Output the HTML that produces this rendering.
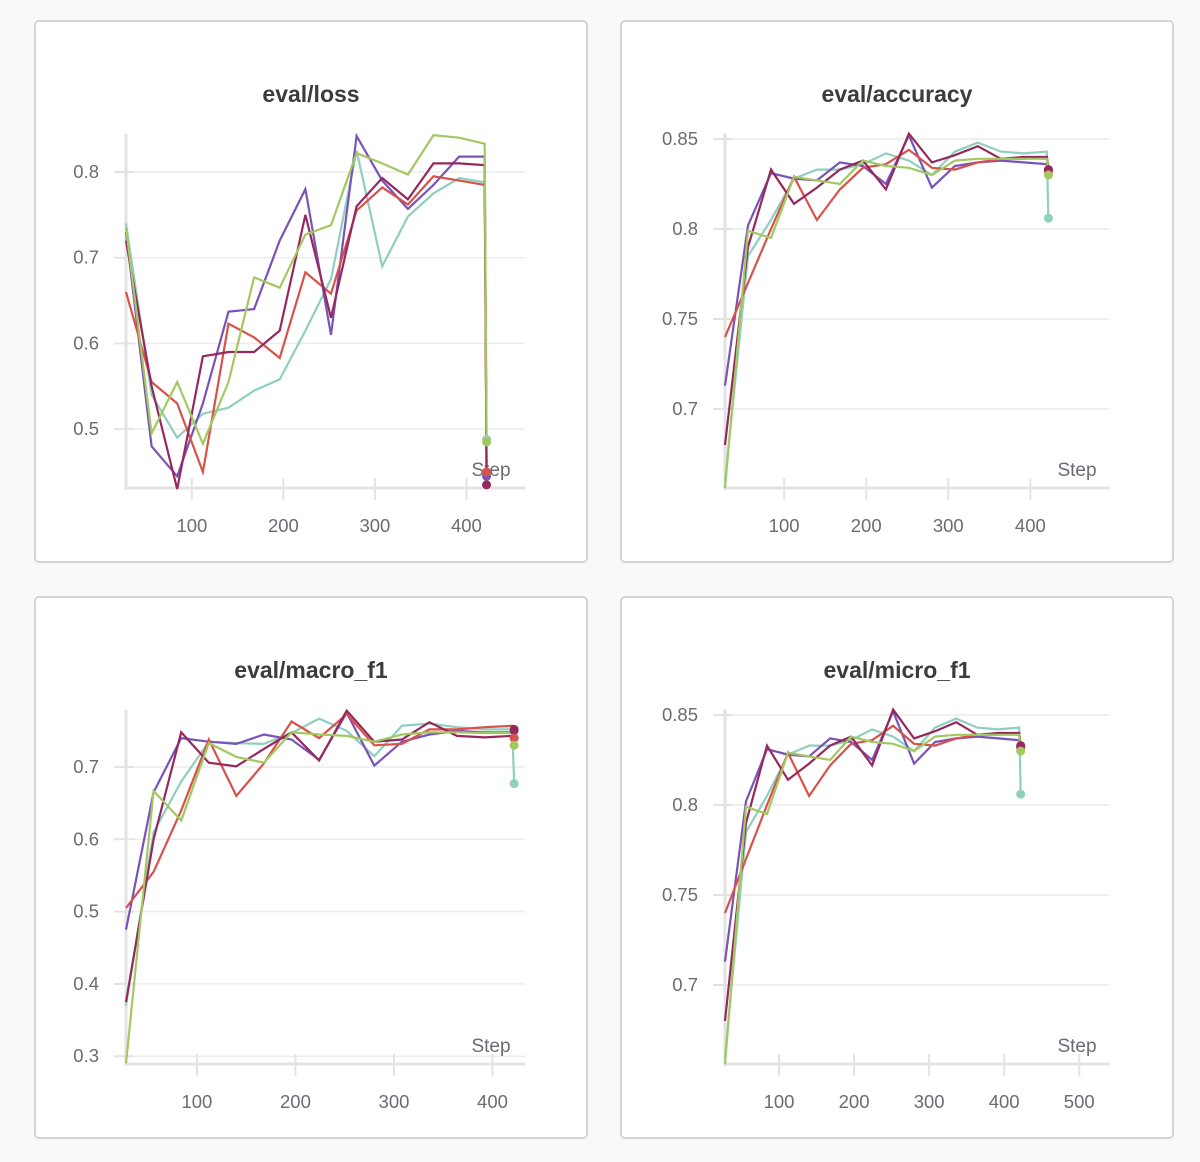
<!DOCTYPE html>
<html><head><meta charset="utf-8">
<style>
html,body{margin:0;padding:0;background:#f9f9f9;}
body{width:1200px;height:1162px;position:relative;overflow:hidden;font-family:"Liberation Sans",sans-serif;}
.panel{position:absolute;background:#fff;border:2px solid #d4d4d4;border-radius:5px;box-sizing:border-box;}
svg{position:absolute;left:0;top:0;}
</style></head><body>
<div class="panel" style="left:34px;top:20px;width:554px;height:543px"></div>
<div class="panel" style="left:620px;top:20px;width:554px;height:543px"></div>
<div class="panel" style="left:34px;top:596px;width:554px;height:543px"></div>
<div class="panel" style="left:620px;top:596px;width:554px;height:543px"></div>
<svg id="chart" width="1200" height="1162"></svg>
<script>
const steps = [28,56,84,112,140,168,196,224,252,280,308,336,364,392,420];
const finalStep = 422;
const seriesNames = ["teal","purple","red","maroon","green"];
const seriesColors = ["#90cfbf","#7953b8","#d7524a","#95295d","#a3c862"];

const lossTeal   = [0.74,0.54,0.49,0.518,0.525,0.545,0.558,0.615,0.675,0.825,0.69,0.748,0.775,0.793,0.788];
const lossPurple = [0.73,0.48,0.445,0.53,0.637,0.64,0.72,0.78,0.61,0.842,0.79,0.757,0.785,0.818,0.818];
const lossRed    = [0.66,0.555,0.53,0.45,0.623,0.607,0.583,0.683,0.658,0.755,0.782,0.762,0.795,0.79,0.785];
const lossMaroon = [0.72,0.55,0.43,0.585,0.59,0.59,0.615,0.75,0.63,0.76,0.793,0.768,0.81,0.81,0.808];
const lossGreen  = [0.735,0.495,0.555,0.483,0.555,0.677,0.665,0.727,0.738,0.822,0.81,0.797,0.843,0.84,0.833];
const lossFinal  = [0.488,0.445,0.45,0.435,0.485];

const accTeal   = [0.66,0.785,0.805,0.828,0.833,0.833,0.836,0.842,0.838,0.83,0.843,0.848,0.843,0.842,0.843];
const accPurple = [0.713,0.802,0.831,0.828,0.827,0.837,0.835,0.825,0.852,0.823,0.835,0.837,0.838,0.837,0.836];
const accRed    = [0.74,0.77,0.8,0.829,0.805,0.822,0.834,0.836,0.844,0.834,0.833,0.837,0.839,0.839,0.84];
const accMaroon = [0.68,0.79,0.833,0.814,0.823,0.833,0.838,0.822,0.853,0.837,0.841,0.846,0.839,0.84,0.84];
const accGreen  = [0.656,0.799,0.795,0.829,0.827,0.825,0.838,0.835,0.834,0.83,0.838,0.839,0.839,0.839,0.839];
const accFinal  = [0.806,0.832,0.832,0.833,0.83];

const macroTeal   = [0.37,0.61,0.68,0.735,0.733,0.732,0.747,0.767,0.75,0.715,0.757,0.76,0.755,0.752,0.752];
const macroPurple = [0.475,0.665,0.74,0.735,0.732,0.745,0.738,0.71,0.775,0.702,0.735,0.745,0.75,0.748,0.748];
const macroRed    = [0.505,0.555,0.64,0.738,0.66,0.705,0.763,0.74,0.773,0.73,0.732,0.752,0.752,0.755,0.757];
const macroMaroon = [0.375,0.6,0.748,0.706,0.701,0.725,0.748,0.709,0.778,0.735,0.738,0.762,0.743,0.741,0.743];
const macroGreen  = [0.29,0.667,0.626,0.733,0.714,0.706,0.748,0.745,0.743,0.735,0.745,0.748,0.748,0.747,0.747];
const macroFinal  = [0.677,0.75,0.74,0.752,0.73];

const microTeal = accTeal, microPurple = accPurple, microRed = accRed, microMaroon = accMaroon, microGreen = accGreen;
const microFinal = accFinal;

const lossYTicks = [0.5,0.6,0.7,0.8];
const accYTicks = [0.7,0.75,0.8,0.85];
const macroYTicks = [0.3,0.4,0.5,0.6,0.7];
const xTicks4 = [100,200,300,400];
const xTicks5 = [100,200,300,400,500];

const NS = "http://www.w3.org/2000/svg";
const svg = document.getElementById("chart");
function mk(tag, attrs, parent){
  const e = document.createElementNS(NS, tag);
  for (const k in attrs) e.setAttribute(k, attrs[k]);
  (parent||svg).appendChild(e);
  return e;
}

function drawChart(cfg){
  const g = mk("g", {});
  
  
  const xs = v => cfg.x0 + (v - cfg.xmin) * (cfg.x1 - cfg.x0) / (cfg.xmax - cfg.xmin);
  const ys = v => cfg.y0 + (cfg.ymax - v) * (cfg.y1 - cfg.y0) / (cfg.ymax - cfg.ymin);
  const t = mk("text", {x: cfg.tx, y: cfg.ty, "text-anchor":"middle", "font-size":"23", "font-weight":"bold", fill:"#3b3b40"}, g);
  t.textContent = cfg.title;
  
  
  cfg.yticks.forEach(v => {
    const y = ys(v);
    const gl = mk("line", {x1: cfg.x0-10, x2: cfg.x1, y1: y, y2: y, stroke:"#ececec", "stroke-width":"1.5"}, g);
    
    
    mk("line", {x1: cfg.x0-12, x2: cfg.x0+8, y1: y, y2: y, stroke:"#e3e3e3", "stroke-width":"2"}, g);
    const lb = mk("text", {x: cfg.x0-27, y: y+6, "text-anchor":"end", "font-size":"18.5", fill:"#6b6b76"}, g);
    lb.textContent = String(v);
    
    
  });
  cfg.xticks.forEach(v => {
    const x = xs(v);
    mk("line", {x1: x, x2: x, y1: cfg.y1-10, y2: cfg.y1+12, stroke:"#e3e3e3", "stroke-width":"2"}, g);
    const lb = mk("text", {x: x, y: cfg.y1+44, "text-anchor":"middle", "font-size":"18.5", fill:"#6b6b76"}, g);
    lb.textContent = String(v);
    
    
  });
  const ax = mk("line", {x1: cfg.x0, x2: cfg.x0, y1: cfg.axTop, y2: cfg.y1+2, stroke:"#e3e3e3", "stroke-width":"3"}, g);
  
  
  const axx = mk("line", {x1: cfg.x0-1, x2: cfg.x1, y1: cfg.y1, y2: cfg.y1, stroke:"#e3e3e3", "stroke-width":"3"}, g);
  
  
  const st = mk("text", {x: cfg.sx, y: cfg.y1-12, "text-anchor":"middle", "font-size":"19", fill:"#6b6b76"}, g);
  st.textContent = "Step";
  
  
  cfg.series.forEach((vals, i) => {
    let d = "";
    vals.forEach((v, j) => { d += (j ? "L" : "M") + xs(steps[j]).toFixed(1) + "," + ys(v).toFixed(1); });
    d += "L" + xs(finalStep).toFixed(1) + "," + ys(cfg.finals[i]).toFixed(1);
    const p = mk("path", {d: d, fill:"none", stroke: seriesColors[i], "stroke-width":"2.2", "stroke-linejoin":"miter"}, g);
    
    
  });
  cfg.series.forEach((vals, i) => {
    const c = mk("circle", {cx: xs(finalStep), cy: ys(cfg.finals[i]), r: 4.5, fill: seriesColors[i]}, g);
    
    
  });
}

drawChart({name:"loss-chart", title:"eval/loss", tx:311, ty:102, x0:126, x1:525, xmin:28, xmax:464, axTop:134,
  y0:172, y1:488, ymax:0.8, ymin:0.4313, yticks:lossYTicks, xticks:xTicks4, sx:491,
  series:[lossTeal,lossPurple,lossRed,lossMaroon,lossGreen], finals:lossFinal});
drawChart({name:"accuracy-chart", title:"eval/accuracy", tx:897, ty:102, x0:725, x1:1110, xmin:28, xmax:497, axTop:133,
  y0:139, y1:488, ymax:0.85, ymin:0.6561, yticks:accYTicks, xticks:xTicks4, sx:1077,
  series:[accTeal,accPurple,accRed,accMaroon,accGreen], finals:accFinal});
drawChart({name:"macro-f1-chart", title:"eval/macro_f1", tx:311, ty:678, x0:126, x1:525, xmin:28, xmax:433, axTop:710,
  y0:767, y1:1064, ymax:0.7, ymin:0.2892, yticks:macroYTicks, xticks:xTicks4, sx:491,
  series:[macroTeal,macroPurple,macroRed,macroMaroon,macroGreen], finals:macroFinal});
drawChart({name:"micro-f1-chart", title:"eval/micro_f1", tx:897, ty:678, x0:725, x1:1110, xmin:28, xmax:541, axTop:709,
  y0:715, y1:1064, ymax:0.85, ymin:0.6561, yticks:accYTicks, xticks:xTicks5, sx:1077,
  series:[microTeal,microPurple,microRed,microMaroon,microGreen], finals:microFinal});
</script>
</body></html>
